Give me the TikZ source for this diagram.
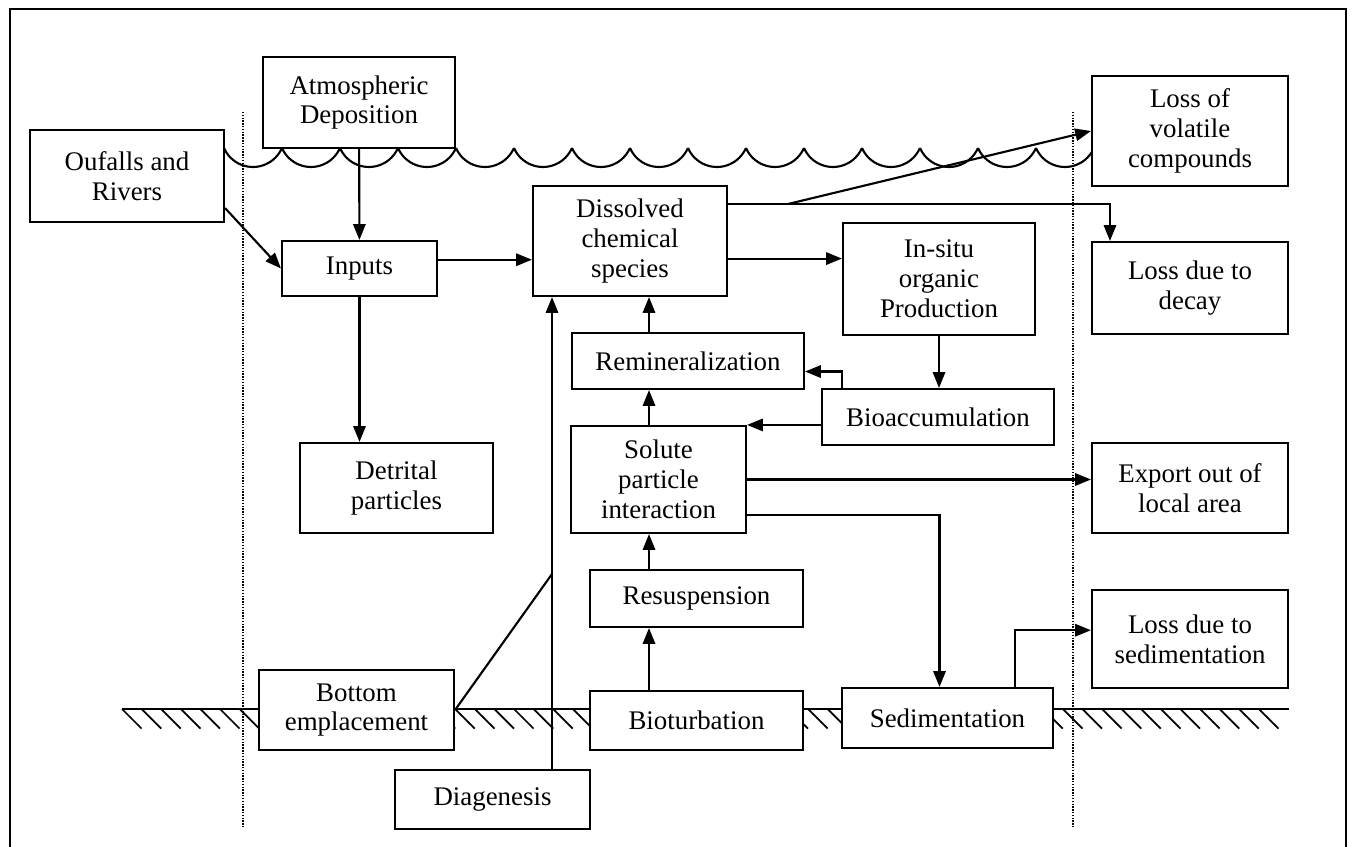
\documentclass[tikz,border=0pt]{standalone}
\usepackage{fontspec}
\setmainfont{Liberation Serif}
\usetikzlibrary{calc, arrows.meta, positioning}

\begin{document}
\begin{tikzpicture}[
        x=0.02cm, y=-0.02cm,
        font=\fontsize{15.3}{17}\selectfont,
        proc/.style={rectangle, draw, fill=white, line width=1.2pt, align=center, inner sep=0pt},
        arrow/.style={-{Triangle[length=9pt,width=7pt]}, line width=1.2pt},
        link/.style={line width=1.2pt},
        zone/.style={line width=0.8pt, dash pattern=on 0.8pt off 0.8pt}
    ]
    \useasboundingbox (0,0) rectangle (1353,847);
    % frame, open at the bottom
    \draw[line width=1pt] (10,847) -- (10,9) -- (1346,9) -- (1346,847);

    % zone limits
    \draw[zone] (243,112) -- (243,827);
    \draw[zone] (1073,112) -- (1073,827);

    % water surface
    \foreach \x in {224,282,...,1036}
        \draw[link] (\x,148) arc[start angle=203.5, end angle=336.5, radius=0.632cm];

    % sea bed
    \draw[link] (122,709) -- (1289,709);
    \foreach \i in {0,...,58}
        \draw[line width=1pt] (122+19.6*\i,709) -- ++(19.6,19.6);

    \node[proc, minimum width=3.84cm, minimum height=1.82cm] (atmos) at (359,102.5) {Atmospheric\\Deposition};
    \node[proc, minimum width=3.88cm, minimum height=1.84cm] (outfalls) at (127,176) {Oufalls and\\Rivers};
    \node[proc, minimum width=3.10cm, minimum height=1.10cm] (inputs) at (359.5,268.5) {Inputs};
    \node[proc, minimum width=3.86cm, minimum height=1.80cm] (detrital) at (396.5,488) {Detrital\\particles};
    \node[proc, minimum width=3.88cm, minimum height=2.20cm] (dissolved) at (630,241) {Dissolved\\chemical\\species};
    \node[proc, minimum width=3.84cm, minimum height=2.24cm] (insitu) at (939,279) {In-situ\\organic\\Production};
    \node[proc, minimum width=4.64cm, minimum height=1.12cm] (remin) at (688,361) {Remineralization};
    \node[proc, minimum width=4.64cm, minimum height=1.12cm] (bioacc) at (938,417) {Bioaccumulation};
    \node[proc, minimum width=3.50cm, minimum height=2.14cm] (solute) at (658.5,479.5) {Solute\\particle\\interaction};
    \node[proc, minimum width=4.26cm, minimum height=1.14cm] (resusp) at (696.5,598.5) {Resuspension};
    \node[proc, minimum width=4.26cm, minimum height=1.18cm] (biotur) at (696.5,720.5) {Bioturbation};
    \node[proc, minimum width=4.22cm, minimum height=1.20cm] (sedim) at (947.5,718) {Sedimentation};
    \node[proc, minimum width=3.90cm, minimum height=1.60cm] (bottom) at (356.5,710) {Bottom\\emplacement};
    \node[proc, minimum width=3.90cm, minimum height=1.18cm] (diagen) at (492.5,799.5) {Diagenesis};
    \node[proc, minimum width=3.92cm, minimum height=2.20cm] (volatile) at (1190,131) {Loss of\\volatile\\compounds};
    \node[proc, minimum width=3.92cm, minimum height=1.84cm] (decay) at (1190,288) {Loss due to\\decay};
    \node[proc, minimum width=3.92cm, minimum height=1.80cm] (export) at (1190,488) {Export out of\\local area};
    \node[proc, minimum width=3.92cm, minimum height=1.96cm] (losssed) at (1190,639) {Loss due to\\sedimentation};

    % inputs
    \draw[arrow] (atmos) -- (inputs);
    \draw[arrow] ($(outfalls.south east)+(0,-15)$) -- (inputs.west);
    \draw[arrow] (inputs.south) -- (inputs.south |- detrital.north);
    \draw[arrow] ([yshift=5pt]inputs.east) -- ([yshift=5pt]inputs.east -| dissolved.west);

    % water column
    \draw[arrow] ([yshift=-10pt]dissolved.east) -- ([yshift=-10pt]dissolved.east -| insitu.west);
    \coordinate (split) at ($(dissolved.east)+(60,-37)$);
    \draw[arrow] (dissolved.east |- split) -| ($(decay.north west)+(19,0)$);
    \draw[arrow] (split) -- (volatile.west);
    \draw[arrow] (insitu.south) -- (insitu.south |- bioacc.north);
    \draw[arrow] ($(bioacc.north west)+(21,0)$) |- ([yshift=-6pt]remin.east);
    \draw[arrow] (bioacc.west |- solute.north east) -- (solute.north east);
    \coordinate (col) at (649,0);
    \draw[arrow] (col |- biotur.north) -- (col |- resusp.south);
    \draw[arrow] (col |- resusp.north) -- (col |- solute.south);
    \draw[arrow] (col |- solute.north) -- (col |- remin.south);
    \draw[arrow] (col |- remin.north) -- (col |- dissolved.south);

    % bed
    \coordinate (dcol) at (552,0);
    \coordinate (joint) at (552,574);
    \draw[arrow] (dcol |- diagen.north) -- (dcol |- dissolved.south);
    \draw[link] (bottom.east) -- (joint);
    \draw[arrow] (solute.east) -- (solute.east -| export.west);
    \draw[arrow] ([yshift=-20pt]solute.east) -| ($(sedim.north)+(-8,0)$);
    \draw[arrow] ($(sedim.north east)+(-39,0)$) |- ([yshift=5pt]losssed.west);
\end{tikzpicture}
\end{document}
